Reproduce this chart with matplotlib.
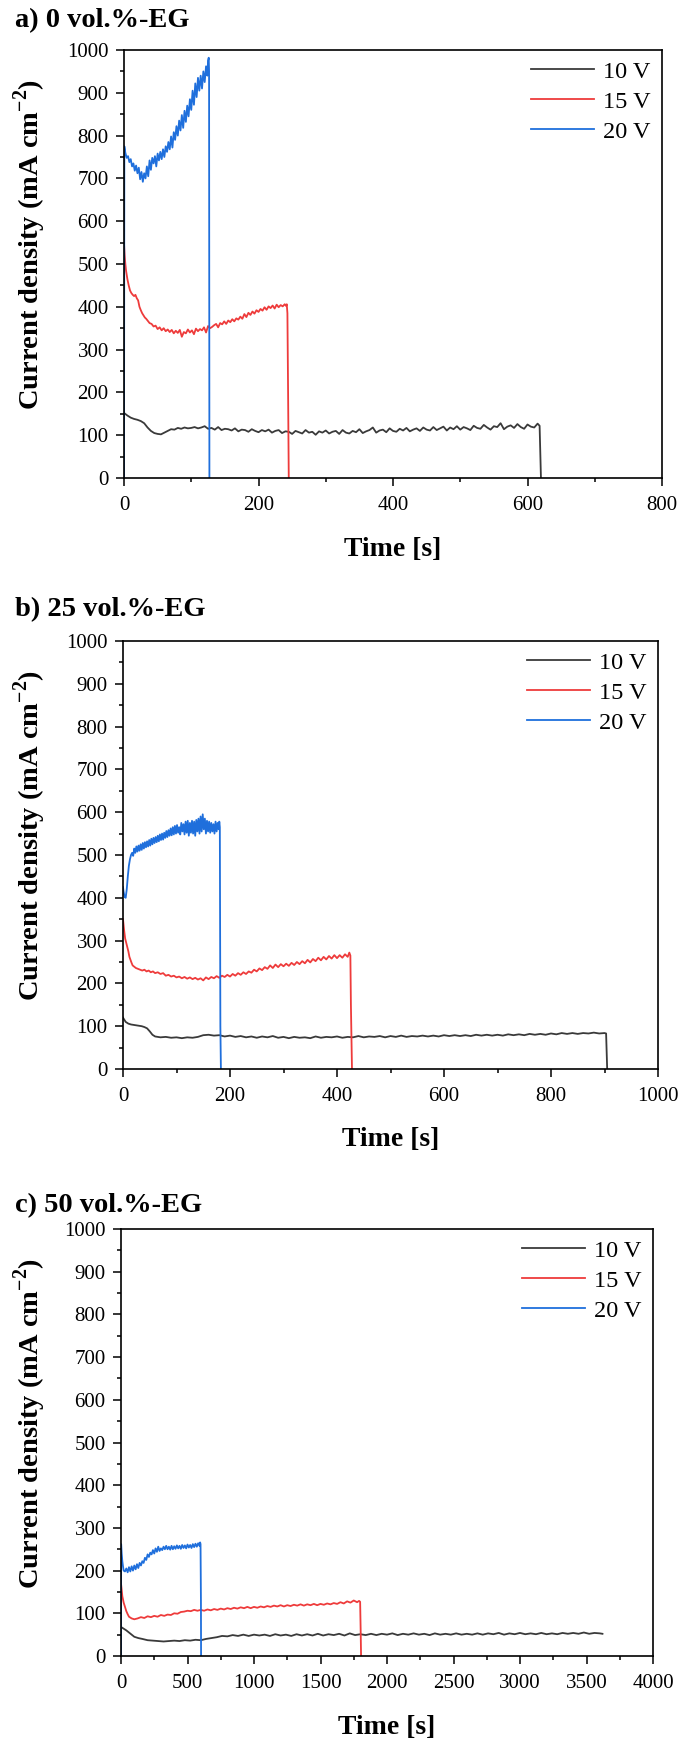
import matplotlib
matplotlib.use('Agg')
import matplotlib.pyplot as plt
from matplotlib.ticker import MultipleLocator

plt.rcParams['font.family'] = ['Liberation Serif', 'DejaVu Serif']
plt.rcParams['mathtext.fontset'] = 'custom'
plt.rcParams['mathtext.rm'] = 'Liberation Serif'
plt.rcParams['mathtext.bf'] = 'Liberation Serif:bold'

# ---------------- data ----------------
labels = ['10 V', '15 V', '20 V']
colors = ['#3a3a3a', '#ee3b3b', '#1f6fdc']

# panel a) 0 vol.%-EG
a_t10 = [0, 5, 10, 15, 20, 25, 30, 35, 40, 45, 50, 55, 60, 65, 70, 75, 80, 85, 90, 95,
         100, 105, 110, 115, 120, 125, 130, 135, 140, 145, 150, 155, 160, 165, 170, 175,
         180, 185, 190, 195, 200, 205, 210, 215, 220, 225, 230, 235, 240, 245, 250, 255,
         260, 265, 270, 275, 280, 285, 290, 295, 300, 305, 310, 315, 320, 325, 330, 335,
         340, 345, 350, 355, 360, 365, 370, 375, 380, 385, 390, 395, 400, 405, 410, 415,
         420, 425, 430, 435, 440, 445, 450, 455, 460, 465, 470, 475, 480, 485, 490, 495,
         500, 505, 510, 515, 520, 525, 530, 535, 540, 545, 550, 555, 560, 565, 570, 575,
         580, 585, 590, 595, 600, 605, 610, 615, 618, 620]
a_v10 = [152, 146, 141, 138, 136, 133, 128, 118, 110, 105, 103, 102, 106, 110, 114, 113, 117, 115, 118, 116,
         117, 119, 116, 118, 121, 115, 117, 113, 119, 112, 115, 114, 111, 116, 109, 113,
         112, 108, 114, 110, 107, 112, 109, 113, 106, 110, 112, 105, 109, 108, 103, 110,
         107, 104, 112, 106, 108, 101, 109, 106, 111, 104, 108, 110, 103, 112, 106, 104,
         110, 107, 114, 105, 109, 112, 118, 106, 111, 113, 107, 116, 110, 108, 115, 111,
         117, 109, 113, 116, 110, 118, 113, 111, 119, 112, 116, 120, 111, 118, 114, 121,
         113, 119, 116, 112, 122, 117, 115, 124, 118, 113, 121, 119, 128, 114, 120, 123,
         117, 126, 119, 115, 125, 120, 118, 127, 122, 0]
a_t15 = [0, 1, 2, 3, 5, 7, 9, 11, 13, 15, 17, 19, 21, 23, 25, 27, 29, 31, 33, 35, 38, 41, 44,
         47, 50, 53, 56, 59, 62, 65, 68, 71, 74, 77, 80, 83, 86, 89, 92, 95, 98, 101, 104,
         107, 110, 113, 116, 119, 122, 125, 128, 131, 134, 137, 140, 143, 146, 149, 152,
         155, 158, 161, 164, 167, 170, 173, 176, 179, 182, 185, 188, 191, 194, 197, 200,
         203, 206, 209, 212, 215, 218, 221, 224, 227, 230, 233, 236, 239, 241, 242, 243,
         244, 245]
a_v15 = [548, 520, 500, 485, 465, 450, 438, 432, 428, 425, 428, 420, 415, 400, 392, 385, 380,
         375, 372, 368, 362, 360, 354, 356, 348, 352, 345, 350, 343, 347, 341, 346, 338, 344,
         339, 346, 330, 341, 338, 347, 340, 345, 336, 349, 343, 348, 345, 352, 340, 355, 350,
         353, 357, 360, 352, 362, 359, 366, 360, 368, 364, 371, 366, 373, 370, 377, 372, 383,
         376, 386, 381, 389, 384, 392, 388, 395, 391, 399, 393, 401, 397, 403, 396, 405, 399,
         404, 401, 406, 402, 406, 385, 200, 0]
a_t20 = [0, 0.5, 2, 4, 6, 8, 10, 12, 14, 16, 18, 20, 22, 24, 26, 28, 30, 32, 34, 36, 38, 40,
         42, 44, 46, 48, 50, 52, 54, 56, 58, 60, 62, 64, 66, 68, 70, 72, 74, 76, 78, 80, 82,
         84, 86, 88, 90, 92, 94, 96, 98, 100, 102, 104, 106, 108, 110, 112, 114, 116, 118,
         120, 122, 124, 125, 126, 126.5, 127]
a_v20 = [0, 775, 760, 748, 752, 738, 745, 728, 735, 718, 730, 712, 725, 698, 715, 692, 712,
         700, 728, 705, 742, 720, 748, 735, 752, 728, 758, 742, 762, 745, 768, 750, 775, 762,
         785, 768, 798, 772, 808, 790, 822, 800, 835, 812, 848, 818, 858, 832, 870, 845, 885,
         860, 905, 872, 922, 890, 935, 905, 940, 910, 950, 925, 962, 940, 975, 982, 950, 0]

# panel b) 25 vol.%-EG
b_t10 = [0, 5, 10, 15, 20, 25, 30, 35, 40, 45, 50, 55, 60, 70, 80, 90, 100, 110, 120, 130,
         140, 150, 160, 170, 180, 190, 200, 210, 220, 230, 240, 250, 260, 270, 280, 290, 300,
         310, 320, 330, 340, 350, 360, 370, 380, 390, 400, 410, 420, 430, 440, 450, 460, 470,
         480, 490, 500, 510, 520, 530, 540, 550, 560, 570, 580, 590, 600, 610, 620, 630, 640,
         650, 660, 670, 680, 690, 700, 710, 720, 730, 740, 750, 760, 770, 780, 790, 800, 810,
         820, 830, 840, 850, 860, 870, 880, 890, 900, 903, 905]
b_v10 = [120, 110, 106, 104, 103, 102, 101, 100, 98, 95, 88, 80, 76, 74, 75, 73, 74, 72, 74,
         73, 75, 79, 80, 78, 79, 76, 78, 75, 77, 74, 76, 73, 76, 74, 77, 73, 75, 72, 75, 73,
         74, 72, 76, 73, 75, 74, 76, 73, 75, 74, 77, 74, 76, 75, 77, 74, 77, 75, 78, 75, 77,
         76, 78, 76, 78, 76, 79, 77, 79, 77, 79, 77, 80, 78, 80, 78, 80, 78, 81, 79, 81, 79,
         82, 80, 82, 80, 83, 81, 84, 82, 84, 82, 84, 83, 85, 83, 84, 83, 0]
b_t15 = [0, 2, 4, 6, 8, 10, 12, 14, 16, 18, 20, 24, 28, 32, 36, 40, 44, 48, 52, 56, 60, 65,
         70, 75, 80, 85, 90, 95, 100, 105, 110, 115, 120, 125, 130, 135, 140, 145, 150, 155,
         160, 165, 170, 175, 180, 185, 190, 195, 200, 205, 210, 215, 220, 225, 230, 235, 240,
         245, 250, 255, 260, 265, 270, 275, 280, 285, 290, 295, 300, 305, 310, 315, 320, 325,
         330, 335, 340, 345, 350, 355, 360, 365, 370, 375, 380, 385, 390, 395, 400, 405, 410,
         415, 420, 423, 425, 426, 428]
b_v15 = [350, 325, 305, 295, 285, 275, 262, 255, 248, 242, 240, 236, 234, 232, 230, 232, 228,
         230, 226, 228, 224, 226, 222, 224, 218, 220, 216, 218, 214, 216, 212, 215, 211, 214,
         210, 213, 209, 212, 207, 214, 210, 215, 212, 217, 213, 218, 215, 220, 216, 222, 218,
         224, 220, 226, 222, 228, 225, 232, 228, 235, 231, 238, 234, 242, 236, 244, 238, 245,
         240, 246, 241, 248, 243, 250, 245, 252, 247, 255, 249, 257, 252, 260, 254, 262, 256,
         264, 258, 266, 259, 266, 260, 268, 262, 272, 265, 150, 0]
b_t20 = [0, 1, 3, 5, 7, 9, 11, 13, 15, 17, 19, 21, 23, 25, 27, 29, 31, 33, 35, 37, 39, 41, 43,
         45, 47, 49, 51, 53, 55, 57, 59, 61, 63, 65, 67, 69, 71, 73, 75, 77, 79, 81, 83, 85,
         87, 89, 91, 93, 95, 97, 99, 101, 103, 105, 107, 109, 111, 113, 115, 117, 119, 121,
         123, 125, 127, 129, 131, 133, 135, 137, 139, 141, 143, 145, 147, 149, 151, 153, 155,
         157, 159, 161, 163, 165, 167, 169, 171, 173, 175, 177, 179, 180, 181, 182, 183]
b_v20 = [425, 415, 402, 400, 420, 450, 475, 490, 500, 505, 498, 515, 505, 520, 508, 522, 510,
         525, 512, 528, 515, 530, 518, 532, 520, 535, 522, 538, 525, 540, 528, 542, 530, 545,
         532, 548, 535, 550, 536, 552, 540, 556, 542, 558, 545, 562, 546, 565, 548, 568, 550,
         570, 552, 565, 548, 575, 555, 572, 548, 578, 552, 580, 545, 575, 552, 580, 550, 578,
         545, 582, 555, 585, 550, 590, 555, 595, 560, 585, 550, 580, 555, 578, 552, 575, 555,
         572, 550, 578, 555, 575, 560, 578, 565, 100, 0]

# panel c) 50 vol.%-EG
c_t10 = [0, 20, 40, 60, 80, 100, 130, 160, 200, 240, 280, 320, 360, 400, 440, 480, 520, 560,
         600, 640, 680, 720, 760, 800, 840, 880, 920, 960, 1000, 1040, 1080, 1120, 1160, 1200,
         1240, 1280, 1320, 1360, 1400, 1440, 1480, 1520, 1560, 1600, 1640, 1680, 1720, 1760,
         1800, 1840, 1880, 1920, 1960, 2000, 2040, 2080, 2120, 2160, 2200, 2240, 2280, 2320,
         2360, 2400, 2440, 2480, 2520, 2560, 2600, 2640, 2680, 2720, 2760, 2800, 2840, 2880,
         2920, 2960, 3000, 3040, 3080, 3120, 3160, 3200, 3240, 3280, 3320, 3360, 3400, 3440,
         3480, 3520, 3560, 3600, 3620]
c_v10 = [68, 64, 60, 55, 50, 45, 42, 40, 37, 36, 35, 34, 35, 36, 35, 37, 36, 38, 37, 40, 42,
         44, 47, 46, 49, 47, 50, 47, 50, 48, 50, 47, 51, 48, 50, 47, 51, 48, 51, 48, 52, 48,
         51, 49, 52, 48, 53, 49, 51, 49, 52, 49, 52, 50, 53, 49, 52, 50, 53, 50, 52, 49, 53,
         50, 52, 50, 53, 50, 52, 50, 53, 50, 53, 51, 54, 50, 53, 51, 54, 51, 53, 51, 54, 51,
         53, 51, 54, 52, 54, 52, 55, 52, 54, 53, 52]
c_t15 = [0, 5, 10, 20, 30, 40, 50, 60, 80, 100, 125, 150, 175, 200, 225, 250, 275, 300, 325,
         350, 375, 400, 425, 450, 475, 500, 525, 550, 575, 600, 625, 650, 675, 700, 725, 750,
         775, 800, 825, 850, 875, 900, 925, 950, 975, 1000, 1025, 1050, 1075, 1100, 1125,
         1150, 1175, 1200, 1225, 1250, 1275, 1300, 1325, 1350, 1375, 1400, 1425, 1450, 1475,
         1500, 1525, 1550, 1575, 1600, 1625, 1650, 1675, 1700, 1725, 1750, 1775, 1790, 1798,
         1802, 1805]
c_v15 = [170, 155, 140, 125, 115, 105, 98, 92, 88, 86, 88, 91, 89, 93, 91, 94, 92, 96, 94, 97,
         96, 100, 99, 103, 104, 106, 105, 108, 106, 108, 106, 109, 107, 110, 108, 111, 109,
         112, 110, 113, 111, 114, 112, 115, 112, 115, 113, 116, 114, 117, 115, 118, 116, 119,
         116, 119, 117, 120, 118, 121, 118, 121, 119, 122, 119, 122, 120, 123, 121, 124, 122,
         126, 123, 128, 125, 130, 126, 129, 127, 60, 0]
c_t20 = [0, 1, 5, 10, 15, 20, 30, 40, 50, 60, 70, 80, 90, 100, 110, 120, 130, 140, 150, 160,
         170, 180, 190, 200, 210, 220, 230, 240, 250, 260, 270, 280, 290, 300, 310, 320, 330,
         340, 350, 360, 370, 380, 390, 400, 410, 420, 430, 440, 450, 460, 470, 480, 490, 500,
         510, 520, 530, 540, 550, 560, 570, 580, 590, 595, 598, 601, 602]
c_v20 = [0, 262, 240, 222, 210, 200, 198, 205, 196, 208, 198, 210, 200, 212, 203, 215, 206,
         218, 212, 222, 218, 230, 225, 238, 232, 242, 238, 248, 240, 252, 244, 256, 246, 252,
         248, 256, 250, 258, 250, 256, 249, 258, 250, 257, 251, 259, 252, 258, 251, 260, 253,
         259, 252, 261, 254, 260, 253, 262, 255, 263, 256, 264, 258, 266, 262, 130, 0]

panels = [
    dict(title='a) 0 vol.%-EG', data=[(a_t10, a_v10), (a_t15, a_v15), (a_t20, a_v20)],
         rect=(124, 50, 662, 478), title_y=21, xmax=800, xmaj=200, xmin=100),
    dict(title='b) 25 vol.%-EG', data=[(b_t10, b_v10), (b_t15, b_v15), (b_t20, b_v20)],
         rect=(123, 641, 658, 1069), title_y=610, xmax=1000, xmaj=200, xmin=100),
    dict(title='c) 50 vol.%-EG', data=[(c_t10, c_v10), (c_t15, c_v15), (c_t20, c_v20)],
         rect=(121, 1229, 653, 1656), title_y=1206, xmax=4000, xmaj=500, xmin=250),
]

W, H = 685, 1739
fig = plt.figure(figsize=(W / 100, H / 100), dpi=100)

for p in panels:
    l, t, r, b = p['rect']
    ax = fig.add_axes([l / W, 1 - b / H, (r - l) / W, (b - t) / H])
    for (tt, vv), lab, col in zip(p['data'], labels, colors):
        ax.plot(tt, vv, color=col, lw=1.3, label=lab)
    ax.set_xlim(0, p['xmax'])
    ax.set_ylim(0, 1000)
    ax.xaxis.set_major_locator(MultipleLocator(p['xmaj']))
    ax.xaxis.set_minor_locator(MultipleLocator(p['xmin']))
    ax.yaxis.set_major_locator(MultipleLocator(100))
    ax.yaxis.set_minor_locator(MultipleLocator(50))
    ax.tick_params(which='both', direction='out', top=False, right=False, width=1.1,
                   labelsize=15, colors='black')
    ax.tick_params(which='major', length=6)
    ax.tick_params(which='minor', length=3)
    ax.tick_params(axis='x', which='major', pad=7)
    ax.tick_params(axis='y', which='major', pad=5)
    for s in ax.spines.values():
        s.set_linewidth(1.2)
    ax.set_xlabel('Time [s]', fontsize=20, fontweight='bold')
    ax.set_ylabel(r'Current density (mA cm$^{\mathbf{-2}}$)', fontsize=20.5, fontweight='bold')
    ax.xaxis.set_label_coords(0.5, -71 / (b - t))
    ax.xaxis.label.set_va('center')
    ax.yaxis.set_label_coords((30 - l) / (r - l), 0.5 + 19 / (b - t))
    ax.yaxis.label.set_va('center')
    ax.legend(loc='upper right', frameon=False, fontsize=17.5, handlelength=2.6,
              handletextpad=0.4, labelspacing=0.32, borderaxespad=0.05)
    fig.text(15 / W, 1 - p['title_y'] / H, p['title'], fontsize=20.5, fontweight='bold',
             ha='left', va='center')

fig.savefig('out.png', dpi=100)
